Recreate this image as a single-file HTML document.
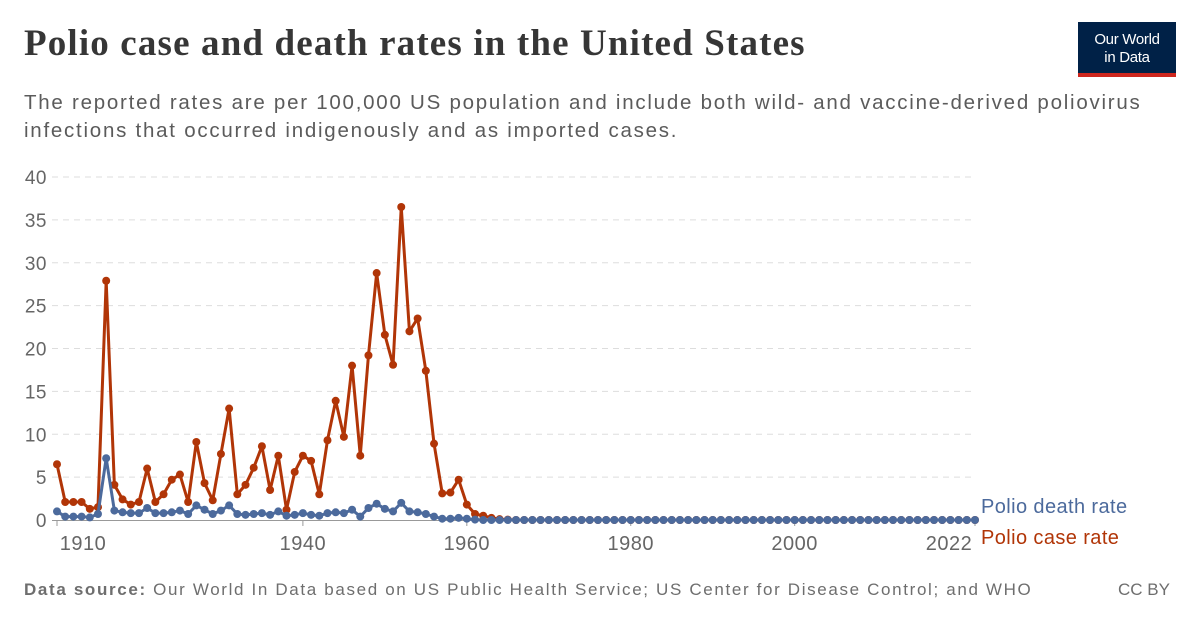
<!DOCTYPE html>
<html><head><meta charset="utf-8"><style>
body{margin:0;width:1200px;height:627px;background:#fff;font-family:"Liberation Sans",sans-serif;position:relative;overflow:hidden}
#title{position:absolute;left:24px;top:22px;font-family:"Liberation Serif",serif;font-weight:bold;font-size:37px;color:#363636;margin:0;letter-spacing:1.15px;white-space:nowrap}
#sub{position:absolute;left:24px;top:89px;width:1150px;font-size:20.5px;line-height:28px;color:#5b5b5b;letter-spacing:1.75px;white-space:nowrap}
#logo{position:absolute;left:1078px;top:22px;width:98px;height:55px;background:#002147;border-bottom:4px solid #ce261e;box-sizing:border-box;color:#fff;font-size:15px;line-height:18px;text-align:center;padding-top:9px;letter-spacing:-0.3px}
#foot{position:absolute;left:24px;top:580px;font-size:17px;color:#6e6e6e;letter-spacing:1.65px;white-space:nowrap}
#cc{position:absolute;right:30px;top:580px;font-size:17px;color:#6e6e6e}
</style></head><body>
<h1 id="title">Polio case and death rates in the United States</h1>
<div id="sub">The reported rates are per 100,000 US population and include both wild- and vaccine-derived poliovirus<br>infections that occurred indigenously and as imported cases.</div>
<div id="logo">Our World<br>in Data</div>
<svg id="chart" width="1200" height="627" style="position:absolute;left:0;top:0"></svg>
<div id="foot"><b>Data source:</b> Our World In Data based on US Public Health Service; US Center for Disease Control; and WHO</div>
<div id="cc">CC BY</div>
<script>
const startYear=1910, endYear=2022;
const caseEarly=[6.5,2.1,2.1,2.1,1.3,1.5,27.9,4.1,2.4,1.8,2.1,6.0,2.1,3.0,4.7,5.3,2.1,9.1,4.3,2.3,7.7,13.0,3.0,4.1,6.1,8.6,3.5,7.5,1.2,5.6,7.5,6.9,3.0,9.3,13.9,9.7,18.0,7.5,19.2,28.8,21.6,18.1,36.5,22.0,23.5,17.4,8.9,3.1,3.2,4.7,1.8,0.7,0.5,0.25,0.1,0.05];
const deathEarly=[1.0,0.4,0.4,0.4,0.3,0.7,7.2,1.1,0.9,0.8,0.8,1.4,0.8,0.8,0.9,1.1,0.7,1.7,1.2,0.7,1.1,1.7,0.7,0.6,0.7,0.8,0.6,1.0,0.5,0.6,0.8,0.6,0.5,0.8,0.9,0.8,1.2,0.4,1.4,1.9,1.3,1.0,2.0,1.0,0.9,0.7,0.4,0.15,0.15,0.25,0.15,0.05];
const yTicks=[0,5,10,15,20,25,30,35,40];
const xTicks=[1910,1940,1960,1980,2000,2022];
const years=[];for(let y=startYear;y<=endYear;y++)years.push(y);
const caseRate=years.map((y,i)=>i<caseEarly.length?caseEarly[i]:0);
const deathRate=years.map((y,i)=>i<deathEarly.length?deathEarly[i]:0);
const X=y=>57+(y-1910)*(918/112), Y=v=>520-v*8.575;
const svg=document.getElementById('chart'),NS='http://www.w3.org/2000/svg';
function mk(t,a){const e=document.createElementNS(NS,t);for(const k in a)e.setAttribute(k,a[k]);svg.appendChild(e);return e;}
yTicks.forEach(v=>{
 if(v>0){const g=mk('line',{x1:52,x2:975,y1:Y(v),y2:Y(v),stroke:'#ddd','stroke-dasharray':'6,5'});
 
 }
 const t=mk('text',{x:47,y:Y(v)+7,'text-anchor':'end','font-size':19,fill:'#666','font-family':'Liberation Sans','letter-spacing':'0.5'});
 
 
 t.textContent=v;});
const ax=mk('line',{x1:52,x2:975,y1:520.5,y2:520.5,stroke:'#999'});


xTicks.forEach(y=>{
 const tk=mk('line',{x1:X(y),x2:X(y),y1:520,y2:526,stroke:'#999'});
 
 
 const t=mk('text',{x:X(y)+(y===1910?26:y===2022?-26:0),y:550,'text-anchor':'middle','font-size':20,fill:'#666','font-family':'Liberation Sans','letter-spacing':'0.5'});
 
 
 t.textContent=y;});
function series(vals,color,name){
 const p=mk('polyline',{points:vals.map((v,i)=>X(years[i])+','+Y(v)).join(' '),fill:'none',stroke:color,'stroke-width':3,'stroke-linejoin':'round'});
 
 
 vals.forEach((v,i)=>{const c=mk('circle',{cx:X(years[i]),cy:Y(v),r:4,fill:color});
 
 });
}
series(caseRate,'#b13507','case-rate');
series(deathRate,'#4c6a9c','death-rate');
const l1=mk('text',{x:981,y:513,'font-size':20,fill:'#4c6a9c','font-family':'Liberation Sans','letter-spacing':'0.4'});


l1.textContent='Polio death rate';
const l2=mk('text',{x:981,y:544,'font-size':20,fill:'#b13507','font-family':'Liberation Sans','letter-spacing':'0.4'});


l2.textContent='Polio case rate';
</script>
</body></html>
